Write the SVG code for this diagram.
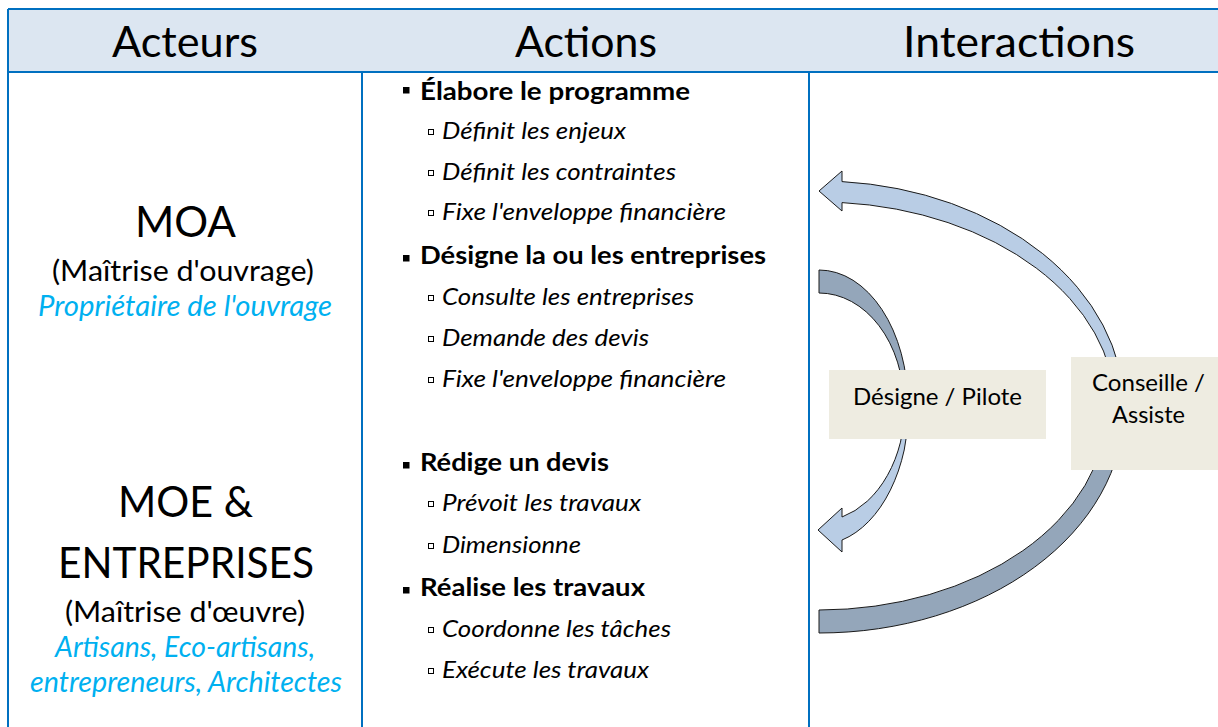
<svg xmlns="http://www.w3.org/2000/svg" width="1218" height="727" viewBox="0 0 1218 727">
<defs>
<style>
text{font-family:Lato,"Liberation Sans",sans-serif;fill:#000}
.hdr{font-size:42px;text-anchor:middle}
.big{font-size:42px;text-anchor:middle}
.par{font-size:28px;text-anchor:middle}
.cy{font-size:28px;text-anchor:middle;font-style:italic;fill:#00B0F0}
.b{font-size:25px;font-weight:bold}
.i{font-size:24px;font-style:italic}
.lbl{font-size:24px;text-anchor:middle}
.line{stroke:#0070C0;stroke-width:2;fill:none}
.bf{fill:#000}
.bh{fill:none;stroke:#000;stroke-width:1}
.light{fill:#B9CDE5;stroke:#1a1a1a;stroke-width:1}
.dark{fill:#94A6BA;stroke:#1a1a1a;stroke-width:1}
.box{fill:#EEECE1}
</style>
</defs>
<rect x="0" y="0" width="1218" height="727" fill="#fff"/>
<g id="table">
<rect x="8" y="9" width="1212" height="63" fill="#DCE6F1"/>
<line class="line" x1="8" y1="9" x2="1218" y2="9"/>
<line class="line" x1="8" y1="72" x2="1218" y2="72"/>
<line class="line" x1="8" y1="9" x2="8" y2="727"/>
<line class="line" x1="362" y1="72" x2="362" y2="727"/>
<line class="line" x1="809" y1="72" x2="809" y2="727"/>
<text class="hdr" x="185" y="57" textLength="146" lengthAdjust="spacingAndGlyphs">Acteurs</text>
<text class="hdr" x="586" y="57" textLength="142" lengthAdjust="spacingAndGlyphs">Actions</text>
<text class="hdr" x="1019" y="57" textLength="232" lengthAdjust="spacingAndGlyphs">Interactions</text>
</g>
<g id="moa">
<text class="big" x="185.5" y="237" textLength="101" lengthAdjust="spacingAndGlyphs">MOA</text>
<text class="par" x="183" y="281" textLength="262" lengthAdjust="spacingAndGlyphs">(Maîtrise d'ouvrage)</text>
<text class="cy" x="185" y="316" textLength="294" lengthAdjust="spacingAndGlyphs">Propriétaire de l'ouvrage</text>
</g>
<g id="moe">
<text class="big" x="185.5" y="517" textLength="135" lengthAdjust="spacingAndGlyphs">MOE &amp;</text>
<text class="big" x="186" y="578" textLength="256" lengthAdjust="spacingAndGlyphs">ENTREPRISES</text>
<text class="par" x="185" y="622" textLength="240" lengthAdjust="spacingAndGlyphs">(Maîtrise d'œuvre)</text>
<text class="cy" x="185" y="657" textLength="260" lengthAdjust="spacingAndGlyphs">Artisans, Eco-artisans,</text>
<text class="cy" x="186" y="692" textLength="312" lengthAdjust="spacingAndGlyphs">entrepreneurs, Architectes</text>
</g>
<g id="actions-moa">
<rect class="bf" x="403" y="87" width="6.5" height="6.5"/>
<text class="b" x="420" y="100" textLength="270" lengthAdjust="spacingAndGlyphs">Élabore le programme</text>
<rect class="bh" x="428.5" y="129.5" width="5" height="5"/>
<text class="i" x="442" y="139" textLength="184" lengthAdjust="spacingAndGlyphs">Définit les enjeux</text>
<rect class="bh" x="428.5" y="170.5" width="5" height="5"/>
<text class="i" x="442" y="180" textLength="234" lengthAdjust="spacingAndGlyphs">Définit les contraintes</text>
<rect class="bh" x="428.5" y="210.5" width="5" height="5"/>
<text class="i" x="442" y="220" textLength="284" lengthAdjust="spacingAndGlyphs">Fixe l'enveloppe financière</text>
<rect class="bf" x="403" y="255" width="6.5" height="6.5"/>
<text class="b" x="420" y="264" textLength="346" lengthAdjust="spacingAndGlyphs">Désigne la ou les entreprises</text>
<rect class="bh" x="428.5" y="295.5" width="5" height="5"/>
<text class="i" x="442" y="305" textLength="252" lengthAdjust="spacingAndGlyphs">Consulte les entreprises</text>
<rect class="bh" x="428.5" y="336.5" width="5" height="5"/>
<text class="i" x="442" y="346" textLength="207" lengthAdjust="spacingAndGlyphs">Demande des devis</text>
<rect class="bh" x="428.5" y="377.5" width="5" height="5"/>
<text class="i" x="442" y="387" textLength="284" lengthAdjust="spacingAndGlyphs">Fixe l'enveloppe financière</text>
</g>
<g id="actions-moe">
<rect class="bf" x="403" y="462" width="6.5" height="6.5"/>
<text class="b" x="420" y="471" textLength="189" lengthAdjust="spacingAndGlyphs">Rédige un devis</text>
<rect class="bh" x="428.5" y="501.5" width="5" height="5"/>
<text class="i" x="442" y="511" textLength="199" lengthAdjust="spacingAndGlyphs">Prévoit les travaux</text>
<rect class="bh" x="428.5" y="543.5" width="5" height="5"/>
<text class="i" x="442" y="553" textLength="139" lengthAdjust="spacingAndGlyphs">Dimensionne</text>
<rect class="bf" x="403" y="587" width="6.5" height="6.5"/>
<text class="b" x="420" y="596" textLength="225" lengthAdjust="spacingAndGlyphs">Réalise les travaux</text>
<rect class="bh" x="428.5" y="627.5" width="5" height="5"/>
<text class="i" x="442" y="637" textLength="229" lengthAdjust="spacingAndGlyphs">Coordonne les tâches</text>
<rect class="bh" x="428.5" y="668.5" width="5" height="5"/>
<text class="i" x="442" y="678" textLength="207" lengthAdjust="spacingAndGlyphs">Exécute les travaux</text>
</g>
<g id="connectors">
<path class="dark" d="M 819,633 A 305 225 0 0 0 1124,408 L 1107,408 A 288 202 0 0 1 819,610 Z"/>
<path class="light" d="M 842,181.6 A 305 227 0 0 1 1124,408 L 1115,408 A 296 206 0 0 0 842,202.6 L 842,211 L 819,191 L 842,171 Z"/>
<path class="dark" d="M 819,270 A 89 135 0 0 1 908,405 L 904,405 A 85 112 0 0 0 819,293 Z"/>
<path class="light" d="M 842,540 A 90 139.6 0 0 0 909,405 L 905,405 A 86 116.3 0 0 1 842,517 L 842,508 L 818,530 L 842,552 Z"/>
</g>
<g id="designe-pilote">
<rect class="box" x="829" y="370" width="217" height="69"/>
<text class="lbl" x="937.5" y="405" textLength="169" lengthAdjust="spacingAndGlyphs">Désigne / Pilote</text>
</g>
<g id="conseille-assiste">
<rect class="box" x="1071" y="357" width="150" height="113"/>
<text class="lbl" x="1148.5" y="391" textLength="113" lengthAdjust="spacingAndGlyphs">Conseille /</text>
<text class="lbl" x="1148.5" y="423" textLength="73" lengthAdjust="spacingAndGlyphs">Assiste</text>
</g>
</svg>
